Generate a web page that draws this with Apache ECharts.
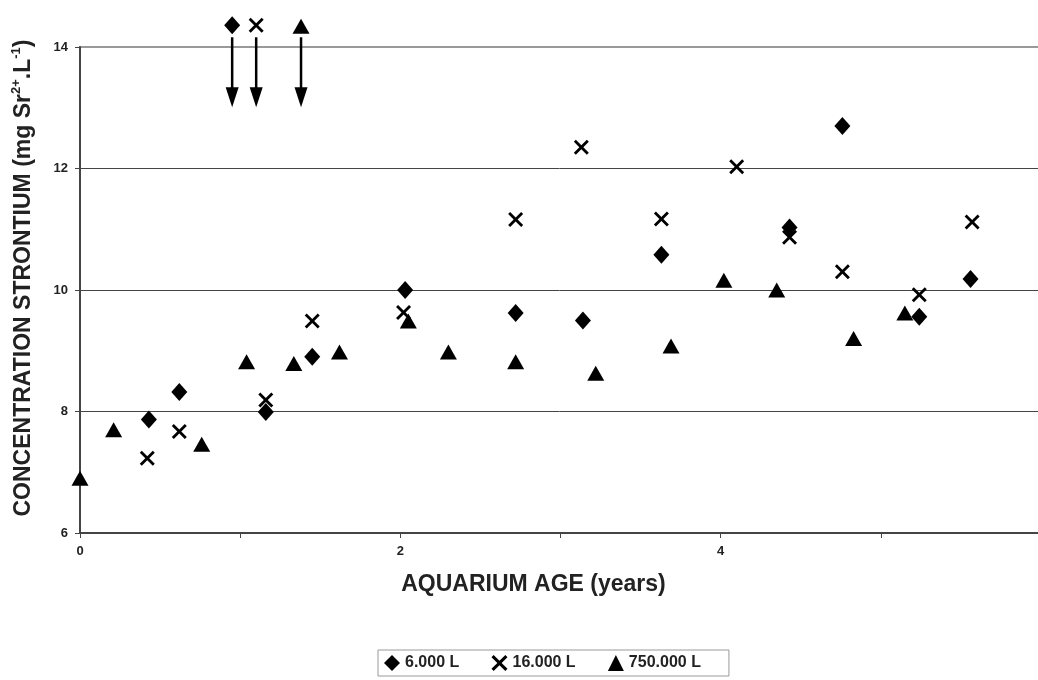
<!DOCTYPE html>
<html>
<head>
<meta charset="utf-8">
<script src="https://cdn.jsdelivr.net/npm/echarts@6/dist/echarts.min.js"></script>
<style>
html, body { margin: 0; padding: 0; background: #fff; }
#grafico { width: 1038px; height: 680px; }
</style>
</head>
<body>
<div id="grafico"></div>
<script>
// idade do aquario (anos) e concentracao de estroncio (mg Sr2+/L) por volume
var idade6000 = [0.43, 0.62, 1.16, 1.45, 2.03, 2.72, 3.14, 3.63, 4.43, 4.76, 5.24, 5.56];
var sr6000 = [7.87, 8.32, 7.99, 8.90, 10.00, 9.62, 9.50, 10.58, 11.03, 12.70, 9.56, 10.18];

var idade16000 = [0.42, 0.62, 1.16, 1.45, 2.02, 2.72, 3.13, 3.63, 4.10, 4.43, 4.76, 5.24, 5.57];
var sr16000 = [7.23, 7.67, 8.19, 9.49, 9.63, 11.16, 12.35, 11.17, 12.03, 10.87, 10.30, 9.92, 11.12];

var idade750000 = [0.00, 0.21, 0.76, 1.04, 1.335, 1.62, 2.05, 2.30, 2.72, 3.22, 3.69, 4.02, 4.35, 4.83, 5.15];
var sr750000 = [6.90, 7.70, 7.46, 8.82, 8.79, 8.98, 9.49, 8.98, 8.82, 8.63, 9.08, 10.16, 10.00, 9.20, 9.62];

// valores fora da escala (acima de 14), marcados com seta para baixo
var foraIdade = [0.95, 1.10, 1.38];
var foraValor = [14.36, 14.36, 14.34];
var setaInicio = 14.16;
var setaFim = 13.01;

var nomes = ['6.000 L', '16.000 L', '750.000 L'];
var ticksY = [6, 8, 10, 12, 14];

var fonte = '"Liberation Sans", Arial, sans-serif';
var simboloX = 'path://M0,2 L2,0 L7.5,5.5 L13,0 L15,2 L9.5,7.5 L15,13 L13,15 L7.5,9.5 L2,15 L0,13 L5.5,7.5 Z';
var simbolos = ['diamond', simboloX, 'triangle'];
var tamanhos = [[16, 18], 15, [17, 15]];
var espacosLegenda = [5, 5, 0]; // espaco extra depois de cada nome na legenda

function junta(xs, ys) {
    var res = [];
    xs.forEach(function (x, i) { res.push([x, ys[i]]); });
    return res;
}

var dados = [junta(idade6000, sr6000), junta(idade16000, sr16000), junta(idade750000, sr750000)];

var series_grafico = [];

nomes.forEach(function (nome, i) {
    series_grafico.push({
        name: nome,
        type: 'scatter',
        symbol: simbolos[i],
        symbolSize: tamanhos[i],
        itemStyle: { color: '#000', opacity: 1 },
        emphasis: { disabled: true },
        data: dados[i]
    });
});

// marcadores acima do grafico
nomes.forEach(function (nome, i) {
    series_grafico.push({
        name: 'fora ' + nome,
        type: 'scatter',
        clip: false,
        symbol: simbolos[i],
        symbolSize: tamanhos[i],
        itemStyle: { color: '#000', opacity: 1 },
        emphasis: { disabled: true },
        data: [[foraIdade[i], foraValor[i]]]
    });
});

// setas para baixo
series_grafico.push({
    name: 'setas',
    type: 'custom',
    silent: true,
    clip: false,
    encode: { x: 0, y: [1, 2] },
    data: foraIdade.map(function (x) { return [x, setaInicio, setaFim]; }),
    renderItem: function (params, api) {
        var topo = api.coord([api.value(0), api.value(1)]);
        var ponta = api.coord([api.value(0), api.value(2)]);
        return {
            type: 'group',
            children: [
                {
                    type: 'line',
                    shape: { x1: topo[0], y1: topo[1], x2: ponta[0], y2: ponta[1] - 16 },
                    style: { stroke: '#000', lineWidth: 2.5 }
                },
                {
                    type: 'polygon',
                    shape: { points: [[ponta[0] - 6.5, ponta[1] - 20], [ponta[0] + 6.5, ponta[1] - 20], [ponta[0], ponta[1]]] },
                    style: { fill: '#000' }
                }
            ]
        };
    }
});

var myChart = echarts.init(document.getElementById('grafico'));

var option = {
    animation: false,
    textStyle: { fontFamily: fonte },
    grid: {
        left: 80, right: -3, top: 47, bottom: 147,
        outerBoundsMode: 'none',
        show: true, borderColor: '#999', borderWidth: 2, backgroundColor: 'transparent'
    },
    legend: {
        left: 378, top: 650,
        itemWidth: 16, itemHeight: 16, itemGap: 10,
        padding: [5, 28, 5, 6],
        borderColor: '#999', borderWidth: 1,
        selectedMode: false,
        data: [
            { name: nomes[0], icon: simbolos[0] },
            { name: nomes[1], icon: simbolos[1] },
            { name: nomes[2], icon: simbolos[2] }
        ],
        formatter: function (name) {
            return name + '\u00a0'.repeat(espacosLegenda[nomes.indexOf(name)]);
        },
        textStyle: { fontSize: 16, fontWeight: 'bold', color: '#222', fontFamily: fonte }
    },
    xAxis: {
        type: 'value',
        min: 0, max: 6, interval: 1,
        name: 'AQUARIUM AGE (years)',
        nameLocation: 'middle',
        nameGap: 40,
        nameTextStyle: { fontSize: 23, fontWeight: 'bold', color: '#222', fontFamily: fonte, padding: [0, 54, 0, 0] },
        axisLine: { lineStyle: { color: '#444', width: 2 } },
        axisTick: { show: true, length: 5, lineStyle: { color: '#444' } },
        axisLabel: {
            fontSize: 13, fontWeight: 'bold', color: '#222', margin: 12,
            formatter: function (v) { return v % 2 === 0 ? String(v) : ''; }
        },
        splitLine: { show: false }
    },
    yAxis: {
        type: 'value',
        min: ticksY[0], max: ticksY[ticksY.length - 1], interval: 2,
        name: '{a|CONCENTRATION STRONTIUM (mg Sr}{s|2+}{a|.L}{s|-1}{a|)}',
        nameLocation: 'middle',
        nameGap: 42,
        nameTextStyle: {
            padding: [0, 0, 0, 24],
            rich: {
                a: { fontSize: 23, fontWeight: 'bold', color: '#222', fontFamily: fonte, lineHeight: 28 },
                s: { fontSize: 13, fontWeight: 'bold', color: '#222', fontFamily: fonte, lineHeight: 14, verticalAlign: 'top' }
            }
        },
        axisLine: { show: true, lineStyle: { color: '#444', width: 2 } },
        axisTick: { show: true, length: 5, lineStyle: { color: '#444' } },
        axisLabel: { fontSize: 13, fontWeight: 'bold', color: '#222', margin: 12 },
        splitLine: { show: true, lineStyle: { color: ['#444', '#444', '#444', '#444', '#999'], width: 1 } }
    },
    series: series_grafico
};

myChart.setOption(option);
</script>
</body>
</html>
